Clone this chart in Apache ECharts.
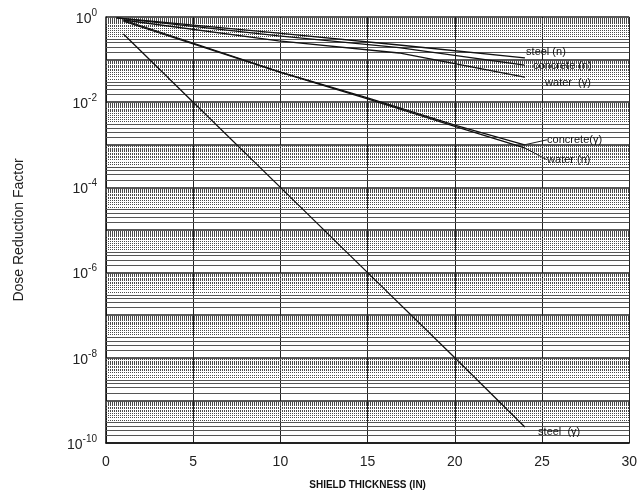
<!DOCTYPE html>
<html><head><meta charset="utf-8">
<script src="https://cdn.jsdelivr.net/npm/echarts@6/dist/echarts.min.js"></script>
<style>html,body{margin:0;padding:0;background:#fff}#c{width:640px;height:495px}</style>
</head><body><div id="c"></div>
<script>
// [thickness (in), dose reduction factor]
const steelN     = [[0.6, 0.95], [9.9, 0.42], [16.8, 0.22], [24, 0.11]];
const concreteN  = [[0.6, 0.95], [9.9, 0.36], [16.8, 0.19], [24, 0.074]];
const waterG     = [[1, 0.85], [9.9, 0.275], [16.8, 0.143], [24, 0.039]];
const concreteG  = [[1, 0.85], [10, 0.051], [15, 0.0126], [20, 0.0029], [24, 0.001]];
const waterN     = [[1, 0.8], [10, 0.05], [15, 0.012], [20, 0.0027], [24, 0.00085]];
const steelG     = [[1, 0.4], [5, 1e-2], [10, 1e-4], [15, 1e-6], [20, 1e-8], [24, 2.4e-10]];

const xTicks = [0, 5, 10, 15, 20, 25, 30];
const yDecades = [-10, -9, -8, -7, -6, -5, -4, -3, -2, -1];
// graph-paper subdivisions within each decade
const gridFineMult = [3.5, 4, 4.5, 5, 5.5, 6, 6.5, 7, 7.5, 8, 8.5, 9, 9.5];
const gridMidMult = [1.5, 2, 2.5, 3];

const FONT = '"Liberation Sans", Arial, sans-serif';

const gridLines = [];
yDecades.forEach(e => {
  const base = Math.pow(10, e);
  gridFineMult.forEach(m => gridLines.push({yAxis: m * base, lineStyle: {color: '#4a4a4a', width: 1, type: [1, 1]}}));
  gridMidMult.forEach(m => gridLines.push({yAxis: m * base, lineStyle: {color: '#555', width: 1, type: 'solid'}}));
});

function mk(name, data, text, opt) {
  const d = data.map((p, i) => {
    if (i < data.length - 1) return p;
    return {value: p, symbol: 'circle', symbolSize: 1,
      label: {show: true, formatter: text, position: 'right', distance: 0,
        offset: opt.offset || [0, 0], fontSize: 11, fontFamily: FONT, color: '#111'}};
  });
  const s = {
    name, type: 'line', data: d, symbol: 'none', showSymbol: true, z: 5,
    lineStyle: {color: '#111', width: 1.3}, itemStyle: {color: '#111'},
    silent: true, animation: false
  };
  if (opt.leader) {
    s.labelLayout = {dx: opt.leader[0], dy: opt.leader[1]};
    s.labelLine = {show: true, lineStyle: {color: '#222', width: 1}};
  }
  return s;
}

const chart = echarts.init(document.getElementById('c'));
chart.setOption({
  animation: false,
  backgroundColor: '#fff',
  grid: {left: 106, right: 8, top: 17, bottom: 52, containLabel: false},
  xAxis: {
    type: 'value', min: 0, max: 30, interval: 5,
    axisLine: {show: true, lineStyle: {color: '#111', width: 1.5}},
    axisTick: {show: false},
    axisLabel: {fontSize: 14, fontFamily: FONT, color: '#222', margin: 12,
      formatter: v => xTicks.includes(v) ? String(v) : ''},
    splitLine: {show: true, lineStyle: {color: '#222', width: 1}},
    name: 'SHIELD THICKNESS (IN)', nameLocation: 'middle', nameGap: 37,
    nameTextStyle: {fontSize: 10, fontWeight: 'bold', fontFamily: FONT, color: '#111'}
  },
  yAxis: {
    type: 'log', logBase: 10, min: 1e-10, max: 1, interval: 1,
    axisLine: {show: true, lineStyle: {color: '#111', width: 1.5}},
    axisTick: {show: false},
    axisLabel: {
      margin: 9, fontFamily: FONT, color: '#222',
      formatter: v => {
        const e = Math.round(Math.log10(v));
        return e % 2 === 0 ? '{b|10}{s|' + e + '}' : '';
      },
      rich: {
        b: {fontSize: 14, fontFamily: FONT, color: '#222', lineHeight: 18, verticalAlign: 'bottom'},
        s: {fontSize: 10, fontFamily: FONT, color: '#222', verticalAlign: 'top', lineHeight: 10}
      }
    },
    splitLine: {show: true, lineStyle: {color: '#222', width: 1.5}},
    name: 'Dose Reduction Factor', nameLocation: 'middle', nameGap: 80, nameRotate: 90,
    nameTextStyle: {fontSize: 14, fontFamily: FONT, color: '#222'}
  },
  series: [
    {type: 'line', data: [], z: 1, silent: true,
      markLine: {silent: true, symbol: 'none', precision: 15, label: {show: false}, animation: false, data: gridLines}},
    mk('steel (n)', steelN, 'steel (n)', {offset: [1, -6]}),
    mk('concrete (n)', concreteN, 'concrete (n)', {offset: [8, 1]}),
    mk('water (γ)', waterG, 'water  (γ)', {offset: [20, 6]}),
    mk('concrete (γ)', concreteG, 'concrete(γ)', {leader: [22, -5]}),
    mk('water (n)', waterN, 'water (n)', {leader: [22, 12]}),
    mk('steel (γ)', steelG, 'steel  (γ)', {offset: [13, 5]})
  ]
});
</script></body></html>
